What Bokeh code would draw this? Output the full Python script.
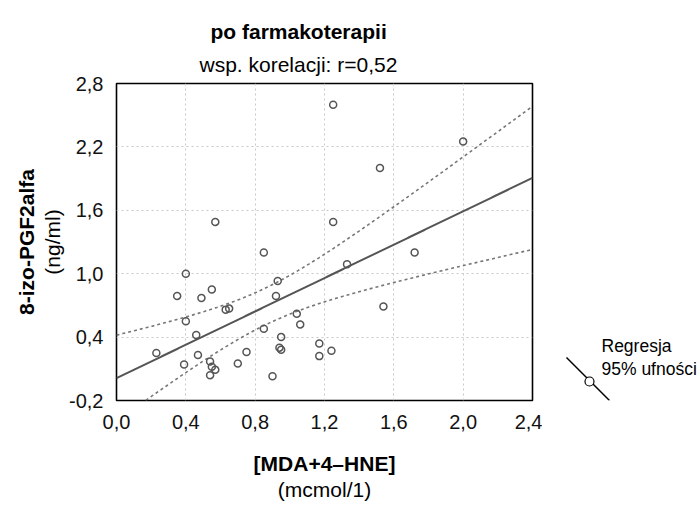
import numpy as np
from bokeh.plotting import figure
from bokeh.layouts import row
from bokeh.models import Range1d, FixedTicker, Label, ColumnDataSource, Title, LinearAxis
from bokeh.embed import file_html
from bokeh.resources import INLINE

# ---- texts ----
title_text = "po farmakoterapii"
subtitle_text = "wsp. korelacji: r=0,52"
x_label = "[MDA+4–HNE]"
x_unit = "(mcmol/1)"
y_label = "8-izo-PGF2alfa"
y_unit = "(ng/ml)"
legend_labels = ["Regresja", "95% ufności"]

# ---- data ----
mda_hne = [0.85, 0.40, 0.93, 0.35, 0.49, 0.55, 0.92, 0.63, 0.65, 0.40,
           0.46, 1.04, 1.06, 0.85, 0.95, 0.23, 0.94, 0.95, 0.75, 0.47,
           1.17, 1.17, 1.24, 0.39, 0.54, 0.55, 0.57, 0.54, 0.70, 0.90,
           1.25, 2.00, 1.52, 1.25, 1.72, 1.33, 1.54, 0.57]
izo_pgf = [1.20, 1.00, 0.93, 0.79, 0.77, 0.85, 0.79, 0.66, 0.67, 0.55,
           0.42, 0.62, 0.52, 0.48, 0.40, 0.25, 0.30, 0.28, 0.26, 0.23,
           0.34, 0.22, 0.27, 0.14, 0.17, 0.12, 0.09, 0.04, 0.15, 0.03,
           2.60, 2.25, 2.00, 1.49, 1.20, 1.09, 0.69, 1.49]

x_ticks = [0.0, 0.4, 0.8, 1.2, 1.6, 2.0, 2.4]
x_tick_labels = ["0,0", "0,4", "0,8", "1,2", "1,6", "2,0", "2,4"]
y_ticks = [-0.2, 0.4, 1.0, 1.6, 2.2, 2.8]
y_tick_labels = ["-0,2", "0,4", "1,0", "1,6", "2,2", "2,8"]

FONT = "Liberation Sans"

# ---- regression and 95% confidence band computed from the data ----
x = np.array(mda_hne)
y = np.array(izo_pgf)
n = len(x)
slope, intercept = np.polyfit(x, y, 1)
resid = y - (intercept + slope * x)
s = np.sqrt(np.sum(resid ** 2) / (n - 2))
sxx = np.sum((x - x.mean()) ** 2)
t95 = 2.028  # t(0.975, df = n-2 = 36)
xs = np.linspace(x_ticks[0], x_ticks[-1], 200)
yhat = intercept + slope * xs
se = s * np.sqrt(1.0 / n + (xs - x.mean()) ** 2 / sxx)
fit = ColumnDataSource(dict(x=xs, y=yhat, lo=yhat - t95 * se, hi=yhat + t95 * se))

# ---- main figure ----
p = figure(width=542, height=509, title=None,
           x_range=Range1d(x_ticks[0], x_ticks[-1]),
           y_range=Range1d(y_ticks[0], y_ticks[-1]),
           output_backend="svg", toolbar_location=None,
           min_border_left=116, min_border_right=10,
           min_border_top=83, min_border_bottom=109)
p.outline_line_color = "black"
p.outline_line_width = 1.6
p.background_fill_color = "white"
p.border_fill_color = "white"

xa = p.below[0]
ya = p.left[0]
xa.ticker = FixedTicker(ticks=x_ticks)
ya.ticker = FixedTicker(ticks=y_ticks)
xa.major_label_overrides = dict(zip(x_ticks, x_tick_labels))
ya.major_label_overrides = dict(zip(y_ticks, y_tick_labels))
for ax in (xa, ya):
    ax.axis_line_color = None
    ax.major_tick_line_color = None
    ax.minor_tick_line_color = None
    ax.major_tick_out = 0
    ax.major_tick_in = 0
    ax.major_label_text_font = FONT
    ax.major_label_text_font_size = "20px"
    ax.major_label_text_color = "#111111"
    ax.axis_label_text_font = FONT
    ax.axis_label_text_font_size = "21px"
    ax.axis_label_text_color = "black"
ya.major_label_orientation = "horizontal"
xa.major_label_standoff = 14
ya.major_label_standoff = 13

xa.axis_label = x_label
xa.axis_label_text_font_style = "bold"
xa.axis_label_standoff = 20
ya.axis_label = y_unit
ya.axis_label_text_font_style = "normal"
ya.axis_label_standoff = 2


def label_axis(label, bold, standoff):
    return LinearAxis(ticker=FixedTicker(ticks=[]), axis_label=label,
                      axis_line_color=None, major_tick_line_color=None,
                      minor_tick_line_color=None, major_label_text_font_size="0px",
                      major_tick_out=0, major_tick_in=0, minor_tick_out=0,
                      minor_tick_in=0, major_label_standoff=0,
                      axis_label_standoff=standoff, axis_label_text_font=FONT,
                      axis_label_text_font_size="21px",
                      axis_label_text_font_style="bold" if bold else "normal",
                      axis_label_text_color="black")


# titles (first added sits next to the frame): subtitle, then title
p.add_layout(Title(text=subtitle_text, align="left", offset=83, standoff=16,
                   text_font=FONT, text_font_size="21px",
                   text_font_style="normal", text_color="black"), "above")
p.add_layout(Title(text=title_text, align="left", offset=94, standoff=0,
                   text_font=FONT, text_font_size="21px",
                   text_font_style="bold", text_color="black"), "above")

p.add_layout(label_axis(x_unit, False, 0), "below")
p.add_layout(label_axis(y_label, True, 1), "left")

p.xgrid.ticker = FixedTicker(ticks=x_ticks)
p.ygrid.ticker = FixedTicker(ticks=y_ticks)
for g in (p.xgrid, p.ygrid):
    g.grid_line_color = "#c8c8c8"
    g.grid_line_dash = "2 3"
    g.grid_line_width = 1

p.line("x", "hi", source=fit, line_color="#777777", line_width=1.6, line_dash="3 3")
p.line("x", "lo", source=fit, line_color="#777777", line_width=1.6, line_dash="3 3")
p.line("x", "y", source=fit, line_color="#555555", line_width=2)
p.scatter(mda_hne, izo_pgf, marker="circle", size=7, fill_color=None,
          line_color="#555555", line_width=1.5)

# ---- legend panel (its frame lines up with the main frame: y 83..400) ----
leg = figure(width=157, height=509, x_range=Range1d(0, 157), y_range=Range1d(400, 83),
             title=None, x_axis_location=None, y_axis_location=None,
             output_backend="svg", toolbar_location=None,
             min_border_left=0, min_border_right=0,
             min_border_top=83, min_border_bottom=109)
leg.grid.visible = False
leg.outline_line_color = None
leg.border_fill_color = "white"
leg.background_fill_color = "white"
leg.line([24, 67], [357, 400], line_color="black", line_width=1.5)
leg.scatter([47], [381], marker="circle", size=9, fill_color="white",
            line_color="black", line_width=1.2)
for txt, yy in zip(legend_labels, [345, 368]):
    leg.add_layout(Label(x=59, y=yy, text=txt, text_font=FONT,
                         text_font_size="17.5px", text_align="left",
                         text_baseline="middle", text_color="black"))

layout = row(p, leg)
open("out.html", "w").write(file_html(layout, INLINE))
